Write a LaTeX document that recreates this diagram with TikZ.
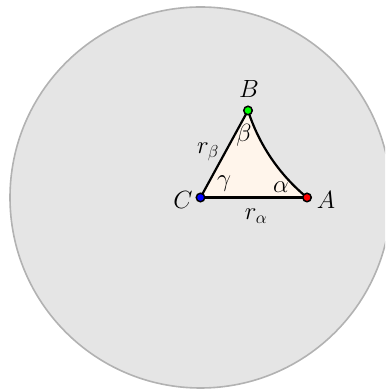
\documentclass[tikz,border=0pt]{standalone}
\begin{document}
\begin{tikzpicture}[x=1pt,y=1pt,
  lbl/.style={font=\fontsize{23}{26}\selectfont, inner sep=0pt},
  vtx/.style={circle, draw=black, line width=1.5pt, minimum size=8.5pt, inner sep=0pt},
  edge/.style={line width=2.2pt, line join=round}]
\useasboundingbox (0,0) rectangle (385,390);
\begin{scope}
\clip (0,0) rectangle (385,390);
\fill[gray!20, draw=black!30, line width=1.6pt] (200.5,192.5) circle[radius=190.5];
\end{scope}
\coordinate (Cp) at (200.5,192.5);
\coordinate (Ap) at (307,192.5);
\coordinate (Bp) at (248,279.5);
\fill[orange!8] (Cp) -- (Ap) arc[start angle=230.58, end angle=197.72, radius=185.8] -- cycle;
\draw[edge] (Cp) -- (Ap);
\draw[edge] (Cp) -- (Bp);
\draw[edge] (Ap) arc[start angle=230.58, end angle=197.72, radius=185.8];
\node[vtx, fill=red] (A) at (Ap) {};
\node[vtx, fill=green] (B) at (Bp) {};
\node[vtx, fill=blue] (C) at (Cp) {};
\node[lbl] (lA) at (326,190) {$A$};
\node[lbl] (lB) at (249,301) {$B$};
\node[lbl] (lC) at (183,190) {$C$};
\node[lbl] (lrb) at (208,238) {$r_\beta$};
\node[lbl] (lrbb) at (244,255) {$\beta$};
\node[lbl] (lg) at (224,206) {$\gamma$};
\node[lbl] (la) at (281,203) {$\alpha$};
\node[lbl] (lra) at (256,174) {$r_\alpha$};
\end{tikzpicture}
\end{document}
